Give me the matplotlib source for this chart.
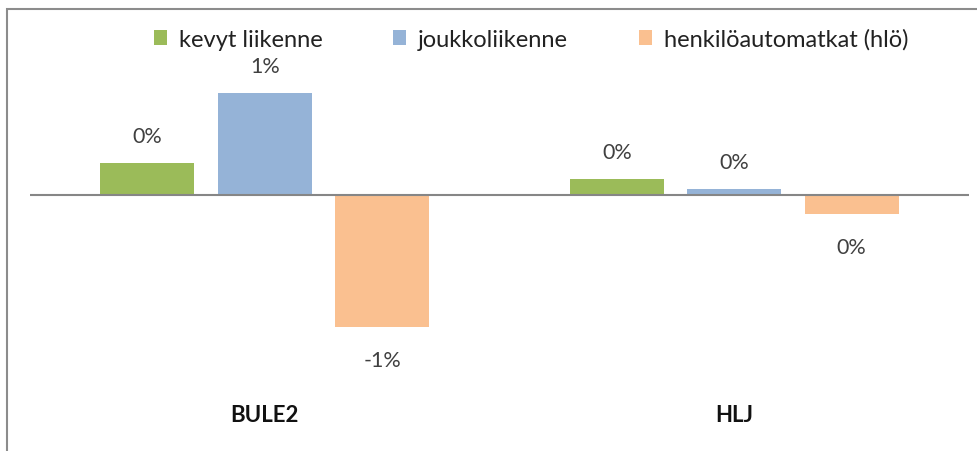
import matplotlib
matplotlib.use("Agg")
import matplotlib.pyplot as plt
from matplotlib.patches import Rectangle
import numpy as np

categories = ["BULE2", "HLJ"]
series_names = ["kevyt liikenne", "joukkoliikenne", "henkilöautomatkat (hlö)"]
kevyt = [0.31, 0.16]
joukko = [1.00, 0.06]
henkilo = [-1.29, -0.19]
value_labels = [["0%", "0%"], ["1%", "0%"], ["-1%", "0%"]]
colors = ["#9BBB59", "#95B3D7", "#FAC090"]

plt.rcParams['font.family'] = ['Lato', 'DejaVu Sans']

W, H = 978, 452
fig = plt.figure(figsize=(W / 100, H / 100), dpi=100)

# outer frame
fig.patches.append(Rectangle((7 / W, -0.1), 1.2, 1 - 10 / H + 0.1, transform=fig.transFigure,
                             fill=False, edgecolor="#8c8c8c", linewidth=1.5))

ylo, yhi = -1.8, 1.35
ppu = 102.0
ax_h = (yhi - ylo) * ppu
ax_top = 196 - yhi * ppu
ax = fig.add_axes([30 / W, 1 - (ax_top + ax_h) / H, 939 / W, ax_h / H])
ax.set_xlim(-0.5, 1.5)
ax.set_ylim(ylo, yhi)

x = np.arange(len(categories))
width = 0.2
offsets = [-0.25, 0.0, 0.25]
series = [kevyt, joukko, henkilo]
for i, (vals, name, col) in enumerate(zip(series, series_names, colors)):
    bars = ax.bar(x + offsets[i], vals, width, color=col, label=name, zorder=2)
    for j, b in enumerate(bars):
        v = vals[j]
        dy = 27 if v >= 0 else -33
        ax.annotate(value_labels[i][j], (b.get_x() + b.get_width() / 2, v),
                    xytext=(0, dy), textcoords="offset pixels", ha="center", va="center",
                    fontsize=15.5, color="#404040")

ax.axhline(0, color="#868686", linewidth=1.5, zorder=3)
for s in ax.spines.values():
    s.set_visible(False)
ax.set_yticks([])
ax.set_xticks(x)
ax.set_xticklabels(categories, fontsize=16, fontweight="bold", color="#111111")
ax.tick_params(axis="x", length=0, pad=18)

leg = fig.legend(loc="center", bbox_to_anchor=(531 / W, 1 - 40 / H), ncol=3, frameon=False,
                 fontsize=17, handlelength=0.55, handleheight=0.55, handletextpad=0.5,
                 columnspacing=3.0)
for t in leg.get_texts():
    t.set_color("#222222")

fig.savefig("out.png", dpi=100)
